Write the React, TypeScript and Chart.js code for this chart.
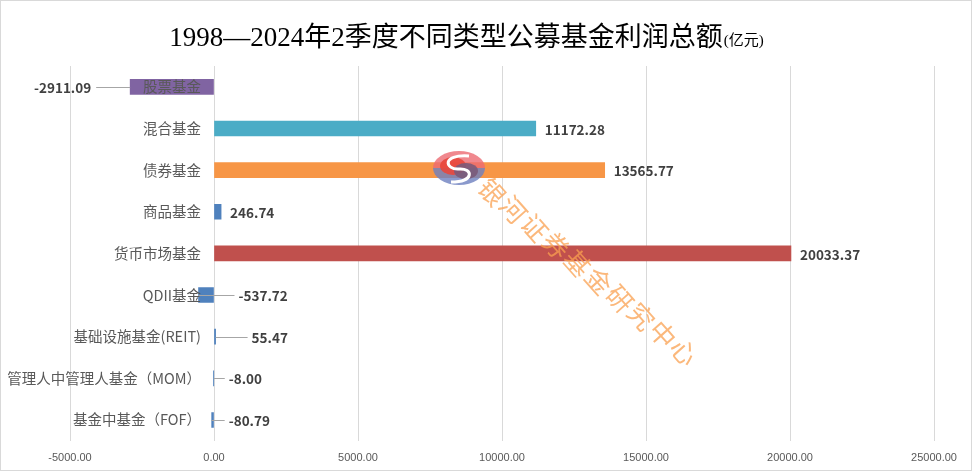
import React, { useEffect, useRef } from 'react';
import { Chart, registerables } from 'chart.js';

Chart.register(...registerables);

const categories = [
  '股票基金',
  '混合基金',
  '债券基金',
  '商品基金',
  '货币市场基金',
  'QDII基金',
  '基础设施基金(REIT)',
  '管理人中管理人基金（MOM）',
  '基金中基金（FOF）',
];
const profits = [-2911.09, 11172.28, 13565.77, 246.74, 20033.37, -537.72, 55.47, -8.0, -80.79];
const barColors = ['#8064A2', '#4BACC6', '#F79646', '#4F81BD', '#C0504D', '#4F81BD', '#4F81BD', '#4F81BD', '#4F81BD'];
const xMin = -5000;
const xMax = 25000;
const xStep = 5000;
const titleMain = '1998—2024年2季度不同类型公募基金利润总额';
const titleUnit = '(亿元)';
const watermark = '银河证券基金研究中心';

// label gap (px) from bar end; negative = placed to the left (right-aligned)
const labelGap = [-39, 9, 9, 9, 9, 40, 36, 15, 17];

const CJK = '"Noto Sans CJK SC", "Noto Sans", sans-serif';

const decorPlugin = {
  id: 'decor',
  beforeDraw(chart: any) {
    const { ctx, width, height } = chart;
    ctx.save();
    ctx.fillStyle = '#ffffff';
    ctx.fillRect(0, 0, width, height);
    ctx.strokeStyle = '#d9d9d9';
    ctx.lineWidth = 1;
    ctx.strokeRect(0.5, 0.5, width - 2, height - 2);
    // title
    const mainFont = `27px "Liberation Serif", "Noto Sans CJK SC", serif`;
    const unitFont = `15px "Liberation Serif", "Noto Sans CJK SC", serif`;
    ctx.font = mainFont;
    const w1 = ctx.measureText(titleMain).width;
    ctx.font = unitFont;
    const w2 = ctx.measureText(titleUnit).width;
    const cx = 466;
    const x0 = cx - (w1 + w2) / 2;
    ctx.fillStyle = '#000000';
    ctx.textBaseline = 'alphabetic';
    ctx.textAlign = 'left';
    ctx.font = mainFont;
    ctx.fillText(titleMain, x0, 46);
    ctx.font = unitFont;
    ctx.fillText(titleUnit, x0 + w1 + 1, 45);
    ctx.restore();
  },
  afterDatasetsDraw(chart: any) {
    const { ctx } = chart;
    const meta = chart.getDatasetMeta(0);
    const zeroX = chart.scales.x.getPixelForValue(0);
    ctx.save();
    // category labels next to the zero line
    ctx.font = `14.5px ${CJK}`;
    ctx.fillStyle = '#595959';
    ctx.textBaseline = 'middle';
    ctx.textAlign = 'right';
    meta.data.forEach((bar: any, i: number) => {
      ctx.fillText(categories[i], zeroX - 13, bar.y);
    });
    // value labels
    ctx.font = `bold 13.5px ${CJK}`;
    ctx.fillStyle = '#404040';
    meta.data.forEach((bar: any, i: number) => {
      const v = profits[i];
      const end = bar.x;
      const y = bar.y;
      const gap = labelGap[i];
      const txt = v.toFixed(2);
      ctx.textAlign = gap < 0 ? 'right' : 'left';
      const tx = end + gap;
      if (Math.abs(gap) > 12) {
        ctx.strokeStyle = '#a6a6a6';
        ctx.lineWidth = 1;
        ctx.beginPath();
        const yy = Math.round(y) + 0.5;
        if (gap < 0) {
          ctx.moveTo(tx + 5, yy);
          ctx.lineTo(end, yy);
        } else {
          ctx.moveTo(end, yy);
          ctx.lineTo(tx - 4, yy);
        }
        ctx.stroke();
      }
      ctx.fillText(txt, tx, y + 1);
    });
    ctx.restore();
  },
  afterDraw(chart: any) {
    const { ctx } = chart;
    ctx.save();
    // logo
    const lx = 459, ly = 168, rx = 26, ry = 17;
    ctx.globalAlpha = 0.8;
    ctx.beginPath();
    ctx.ellipse(lx, ly, rx, ry, 0, Math.PI, 2 * Math.PI);
    ctx.fillStyle = '#ec6a72';
    ctx.fill();
    ctx.beginPath();
    ctx.ellipse(lx, ly, rx, ry, 0, 0, Math.PI);
    ctx.fillStyle = '#6d7fbf';
    ctx.fill();
    ctx.globalAlpha = 0.9;
    ctx.beginPath();
    ctx.ellipse(lx - 6, ly - 2, 13, 9, 0, 0, 2 * Math.PI);
    ctx.fillStyle = '#e8473c';
    ctx.fill();
    ctx.beginPath();
    ctx.ellipse(lx + 7, ly + 3, 12, 8, 0, 0, 2 * Math.PI);
    ctx.fillStyle = '#7a5a7a';
    ctx.fill();
    ctx.globalAlpha = 1;
    ctx.strokeStyle = '#ffffff';
    ctx.lineWidth = 3;
    ctx.beginPath();
    ctx.moveTo(lx + 10, ly - 12);
    ctx.bezierCurveTo(lx - 18, ly - 14, lx - 14, ly + 2, lx, ly + 1);
    ctx.bezierCurveTo(lx + 14, ly + 0, lx + 16, ly + 14, lx - 8, ly + 14);
    ctx.stroke();
    // watermark text
    ctx.fillStyle = 'rgba(249, 160, 80, 0.75)';
    ctx.font = `26px ${CJK}`;
    ctx.textAlign = 'center';
    ctx.textBaseline = 'middle';
    const sx = 492, sy = 192, ex = 684, ey = 352;
    const ang = Math.atan2(ey - sy, ex - sx);
    const n = watermark.length;
    for (let i = 0; i < n; i++) {
      const px = sx + ((ex - sx) * i) / (n - 1);
      const py = sy + ((ey - sy) * i) / (n - 1);
      ctx.save();
      ctx.translate(px, py);
      ctx.rotate(ang + 0.15);
      ctx.fillText(watermark[i], 0, 0);
      ctx.restore();
    }
    ctx.restore();
  },
};

export default function App() {
  const ref = useRef<HTMLCanvasElement>(null);
  useEffect(() => {
    document.body.style.margin = '0';
    const canvas = ref.current!;
    const chart = new Chart(canvas, {
      type: 'bar',
      data: {
        labels: categories,
        datasets: [
          {
            data: profits,
            backgroundColor: barColors,
            barThickness: 15,
            borderWidth: 0,
          },
        ],
      },
      options: {
        indexAxis: 'y',
        animation: false,
        responsive: false,
        devicePixelRatio: 1,
        layout: { padding: { top: 66, left: 70, right: 39, bottom: -4 } },
        plugins: {
          legend: { display: false },
          title: { display: false },
          tooltip: { enabled: false },
        },
        scales: {
          x: {
            type: 'linear',
            min: xMin,
            max: xMax,
            ticks: {
              stepSize: xStep,
              color: '#595959',
              font: { size: 11, family: '"Liberation Sans", Arial, sans-serif' },
              padding: 11,
              callback: (v: any) => Number(v).toFixed(2),
            },
            grid: { color: '#d9d9d9', lineWidth: 1, drawTicks: false },
            border: { display: false },
          },
          y: {
            type: 'category',
            position: { x: 0 } as any,
            grid: { display: false },
            border: { display: false },
            ticks: { display: false },
          },
        },
      },
      plugins: [decorPlugin],
    });
    return () => chart.destroy();
  }, []);
  return <canvas ref={ref} width={973} height={472} style={{ display: 'block' }} />;
}
